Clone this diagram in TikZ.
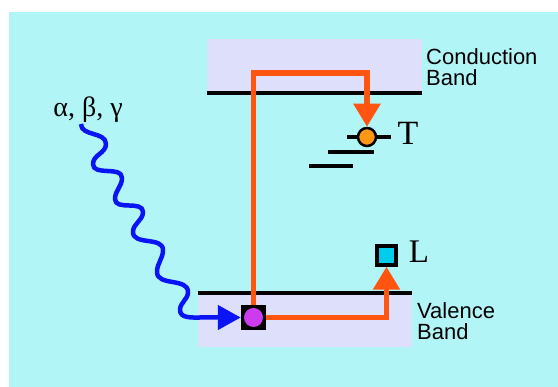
\documentclass[tikz,border=0pt]{standalone}
\usepackage{fontspec}
\setmainfont{Liberation Serif}
\setsansfont{Liberation Sans}
\usepackage{xcolor}
\definecolor{bgCyan}{RGB}{178,245,247}
\definecolor{bandFill}{RGB}{222,223,250}
\definecolor{hopOrange}{RGB}{255,85,17}
\definecolor{rayBlue}{RGB}{10,20,245}
\definecolor{trapOrange}{RGB}{255,150,20}
\definecolor{holePurple}{RGB}{204,60,238}
\definecolor{lumCyan}{RGB}{0,204,238}
\usepackage{tikz}
\usetikzlibrary{arrows.meta,positioning,calc}
\tikzstyle{bandbox}=[rectangle, fill=bandFill, draw=none, inner sep=0pt, minimum height=54pt]
\tikzstyle{bandedge}=[line width=3.5pt, black]
\tikzstyle{bandlabel}=[font=\sffamily\fontsize{22}{21}\selectfont, align=left, anchor=west, inner sep=0pt]
\tikzstyle{levellabel}=[font=\fontsize{34}{34}\selectfont, inner sep=0pt]
\tikzstyle{trapline}=[line width=3.5pt, black]
\tikzstyle{hop}=[line width=5.5pt, color=hopOrange, -{Triangle[length=23pt,width=26pt]}]
\tikzstyle{ray}=[line width=4.5pt, color=rayBlue, line join=round, -{Triangle[length=23pt,width=24pt]}]

\begin{document}
\begin{tikzpicture}[x=1pt, y=1pt]
    \useasboundingbox (0,0) rectangle (558,-387);
    \fill[bgCyan] (9,-12) rectangle (558,-387);

    % Bands
    \node[bandbox, minimum width=215pt] (cb) at (314.5,-66) {};
    \node[bandbox, minimum width=214pt] (vb) at (305,-320) {};
    \draw[bandedge] (cb.south west) -- (cb.south east);
    \draw[bandedge] (vb.north west) -- (vb.north east);
    \node[bandlabel] (cbl) at (426,-67) {Conduction\\Band};
    \node[bandlabel] (vbl) at (417,-321) {Valence\\Band};

    % Trap levels
    \draw[trapline] (347,-137) -- (391,-137);
    \draw[trapline] (328,-152) -- (374,-152);
    \draw[trapline] (309,-166) -- (353,-166);
    \node[circle, fill=trapOrange, draw=black, line width=2.5pt,
      minimum size=18pt, inner sep=0pt] (trap) at (367,-137) {};
    \node[levellabel] (tl) at (408,-133.5) {T};

    % Luminescence centre
    \node[rectangle, fill=lumCyan, draw=black, line width=3.5pt,
      minimum size=19pt, inner sep=0pt] (lum) at (386.5,-255.5) {};
    \node[levellabel, font=\fontsize{33}{33}\selectfont] (ll) at (419,-252) {L};

    % Hole
    \node[rectangle, fill=black, minimum size=25pt, inner sep=0pt] (hole) at (253.5,-317.5) {};
    \node[circle, fill=holePurple, minimum size=19pt, inner sep=0pt] at (hole) {};

    % Transitions
    \draw[hop] (hole.north) -- ++(0,232) -| (trap.north);
    \draw[hop] (hole.east) -| (lum.south);

    % Radiation
    \node[font=\fontsize{28}{28}\selectfont, inner sep=0pt] (rad) at (88,-110) {α, β, γ};
    \coordinate (w0) at (81,-124);
    \draw[ray] (w0) to[out=-90,in=90] (106,-144) to[out=-90,in=90] (93,-164)
      to[out=-90,in=90] (122,-178) to[out=-90,in=90] (115,-199)
      to[out=-90,in=90] (143,-212) to[out=-90,in=90] (133,-232)
      to[out=-90,in=90] (163,-250) to[out=-90,in=90] (157,-272)
      to[out=-90,in=90] (188,-292) to[out=-90,in=90] (180,-310)
      to[out=-90,in=180] (200,-317.5) -- (hole.west);
\end{tikzpicture}
\end{document}
